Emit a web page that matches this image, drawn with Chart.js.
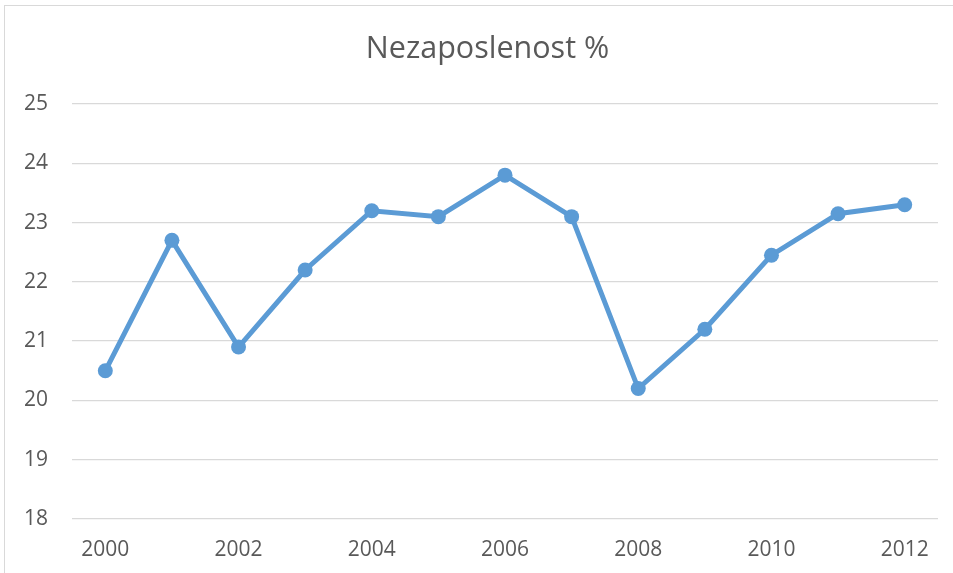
<!DOCTYPE html>
<html>
<head>
<meta charset="utf-8">
<script src="https://cdn.jsdelivr.net/npm/chart.js@4"></script>
<style>
  html, body { margin: 0; padding: 0; background: #ffffff; overflow: hidden; }
  #wrap { position: relative; width: 953px; height: 573px; }
  #frame { position: absolute; left: 4px; top: 5px; width: 2000px; height: 2000px;
           border-left: 1px solid #d9d9d9; border-top: 1px solid #d9d9d9; box-sizing: border-box; }
  #c { position: absolute; left: 0; top: 0; }
</style>
</head>
<body>
<div id="wrap">
  <div id="frame"></div>
  <canvas id="c" width="953" height="573"></canvas>
</div>
<script>
const chartTitle = "Nezaposlenost %";
const years = ["2000","2001","2002","2003","2004","2005","2006","2007","2008","2009","2010","2011","2012"];
const unemployment = [20.5, 22.7, 20.9, 22.2, 23.2, 23.1, 23.8, 23.1, 20.2, 21.2, 22.45, 23.15, 23.3];
const yMin = 18;
const yMax = 25;
const yStep = 1;

const textColor = "#595959";
const fontFamily = "'Open Sans', Lato, 'Liberation Sans', sans-serif";

// Draws the chart title centred over the plot block (as in the reference)
const titlePlugin = {
  id: "offsetTitle",
  afterDraw(chart) {
    const ctx = chart.ctx;
    ctx.save();
    ctx.fillStyle = textColor;
    ctx.font = "30.5px " + fontFamily;
    ctx.textAlign = "center";
    ctx.textBaseline = "middle";
    ctx.fillText(chartTitle, chart.width / 2 + 11, 49);
    ctx.restore();
  }
};

new Chart(document.getElementById("c"), {
  type: "line",
  data: {
    labels: years,
    datasets: [{
      data: unemployment,
      borderColor: "#5B9BD5",
      backgroundColor: "#5B9BD5",
      borderWidth: 5,
      tension: 0,
      pointRadius: 7.5,
      pointBorderWidth: 0,
      pointBackgroundColor: "#5B9BD5",
      fill: false
    }]
  },
  plugins: [titlePlugin],
  options: {
    responsive: false,
    animation: false,
    devicePixelRatio: 1,
    layout: { padding: { left: 10, right: 15, top: 104, bottom: 0 } },
    plugins: {
      legend: { display: false },
      tooltip: { enabled: false },
      title: { display: false }
    },
    scales: {
      x: {
        offset: true,
        grid: { display: false, drawTicks: false },
        border: { display: false },
        ticks: {
          color: textColor,
          font: { family: fontFamily, size: 21 },
          autoSkip: false,
          maxRotation: 0,
          padding: 18,
          callback: function(val, idx) { return idx % 2 === 0 ? years[idx] : ""; }
        },
        afterFit: function(scale) { scale.height = 54; }
      },
      y: {
        min: yMin,
        max: yMax,
        grid: { color: "#d9d9d9", lineWidth: 1.3, drawTicks: false },
        border: { display: false },
        ticks: {
          stepSize: yStep,
          color: textColor,
          font: { family: fontFamily, size: 21 },
          padding: 24
        },
        afterFit: function(scale) { scale.width = 62; }
      }
    }
  }
});
</script>
</body>
</html>
